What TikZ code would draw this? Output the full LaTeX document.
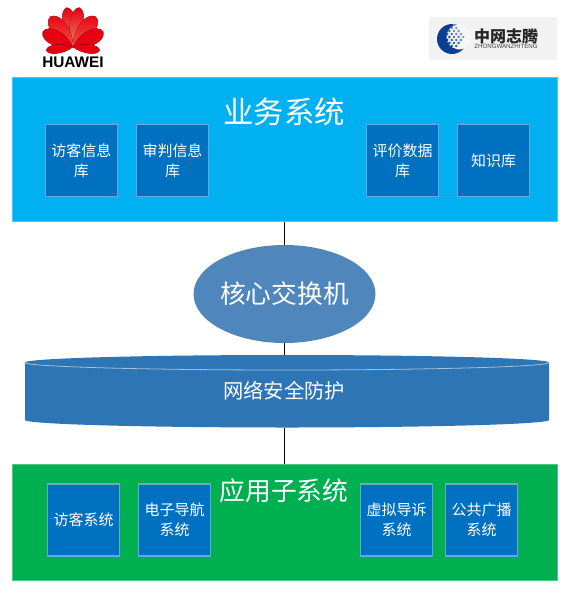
\documentclass[tikz,border=0pt]{standalone}
\usepackage{fontspec}
\setmainfont{Noto Sans CJK SC}
\newfontfamily\latinfont{Liberation Sans}
\usetikzlibrary{positioning,shapes.geometric}
\definecolor{skypanel}{HTML}{00B0F0}
\definecolor{greenpanel}{HTML}{00B050}
\definecolor{boxblue}{HTML}{0070C0}
\definecolor{coreblue}{HTML}{4F86BB}
\definecolor{guardblue}{HTML}{2E75B6}
\definecolor{huaweired}{HTML}{E60012}
\definecolor{logoblue}{HTML}{0B3F94}
\begin{document}
\begin{tikzpicture}[x=0.75pt,y=-0.75pt,
  panel/.style={draw=#1!70!white,line width=0.8pt,fill=#1,anchor=north west,inner sep=0pt},
  subbox/.style={draw=boxblue!60!white,line width=1pt,fill=boxblue,text=white,minimum width=54pt,minimum height=54pt,inner sep=0pt,align=center,font=\fontsize{11.25}{15}\selectfont},
  title/.style={text=white,inner sep=0pt}]
  \useasboundingbox (0,0) rectangle (574,594);
  % logos
  \foreach \a/\l/\w/\c in {9/40/9/F08A70,37/38/11/F05040,63/34/10/E60012,97/27/6/E60012}{
    \foreach \s in {1,-1}{
      \definecolor{petaltip}{HTML}{\c}
      \fill[shift={(73,47)},rotate=\s*\a,top color=huaweired,bottom color=petaltip]
        (0,0) .. controls (-\w,-0.35*\l) and (-\w,-0.95*\l) .. (0,-\l) .. controls (\w,-0.95*\l) and (\w,-0.35*\l) .. (0,0) -- cycle;
    }
  }
  \node[inner sep=0pt,font=\latinfont\bfseries\fontsize{11.5}{12}\selectfont] (huaweilogo) at (73,62.5) {HUAWEI};
  \fill[black!5] (429,17) rectangle (557,60);
  \fill[logoblue] (452,39) circle (15);
  \fill[black!3] (459,37) circle (12.5);
  \foreach \i in {0,...,4}{
    \foreach \j in {0,...,4}{
      \pgfmathtruncatemacro{\p}{100-12*\j}
      \fill[logoblue!\p!white,shift={({454+(\i+\j-4)*2.3},{37+(\i-\j)*3})},rotate=45] (-1,-1) rectangle (1,1);
    }
  }
  \node[inner sep=0pt,text=black!85,font=\bfseries\fontsize{12}{14}\selectfont] (zwlogo) at (506,36) {中网志腾};
  \node[inner sep=0pt,text=black!75,font=\latinfont\fontsize{4.6}{5}\selectfont] (zwpinyin) at (506,46.5) {ZHONGWANZHITENG};
  % panels
  \node[panel=skypanel,minimum width=408.75pt,minimum height=108pt] (business) at (12,77) {};
  \node[panel=greenpanel,minimum width=408.75pt,minimum height=87pt] (apps) at (12,464) {};
  \node[title,font=\fontsize{22.8}{24}\selectfont] (businesstitle) at (284,112) {业务系统};
  \node[title,font=\fontsize{19.3}{21}\selectfont] (appstitle) at (284,491) {应用子系统};
  \foreach \x/\nm/\txt in {81.5/visitdb/访客信息\\库,172.5/trialdb/审判信息\\库,402.5/evaldb/评价数据\\库,493.5/knowdb/知识库}{
    \node[subbox] (\nm) at (\x,160.5) {\txt};
  }
  \foreach \x/\nm/\txt in {83.5/visitsys/访客系统,174.5/navsys/电子导航\\系统,396.5/guidesys/虚拟导诉\\系统,481.5/radiosys/公共广播\\系统}{
    \node[subbox] (\nm) at (\x,520) {\txt};
  }
  % middle
  \node[ellipse,fill=coreblue,text=white,minimum width=132pt,minimum height=73.5pt,inner sep=0pt,font=\fontsize{19.3}{21}\selectfont] (core) at (284.5,294) {核心交换机};
  \coordinate (guardtop) at (284.5,355);
  \coordinate (guardbot) at (284.5,428);
  \fill[guardblue] (25,362.5) -- (25,420) arc[start angle=180,end angle=0,x radius=262,y radius=7.5] -- (549,362.5) arc[start angle=0,end angle=-180,x radius=262,y radius=7.5] -- cycle;
  \draw[white!55!guardblue,line width=0.6pt] (25,362.5) arc[start angle=180,end angle=0,x radius=262,y radius=7.5];
  \node[title,font=\fontsize{15.2}{17}\selectfont] (guardtitle) at (284,391) {网络安全防护};
  \draw[line width=0.7pt] (business.south -| core.north) -- (core.north);
  \draw[line width=0.7pt] (core.south) -- (guardtop);
  \draw[line width=0.7pt] (guardbot) -- (apps.north -| guardbot);
\end{tikzpicture}
\end{document}
